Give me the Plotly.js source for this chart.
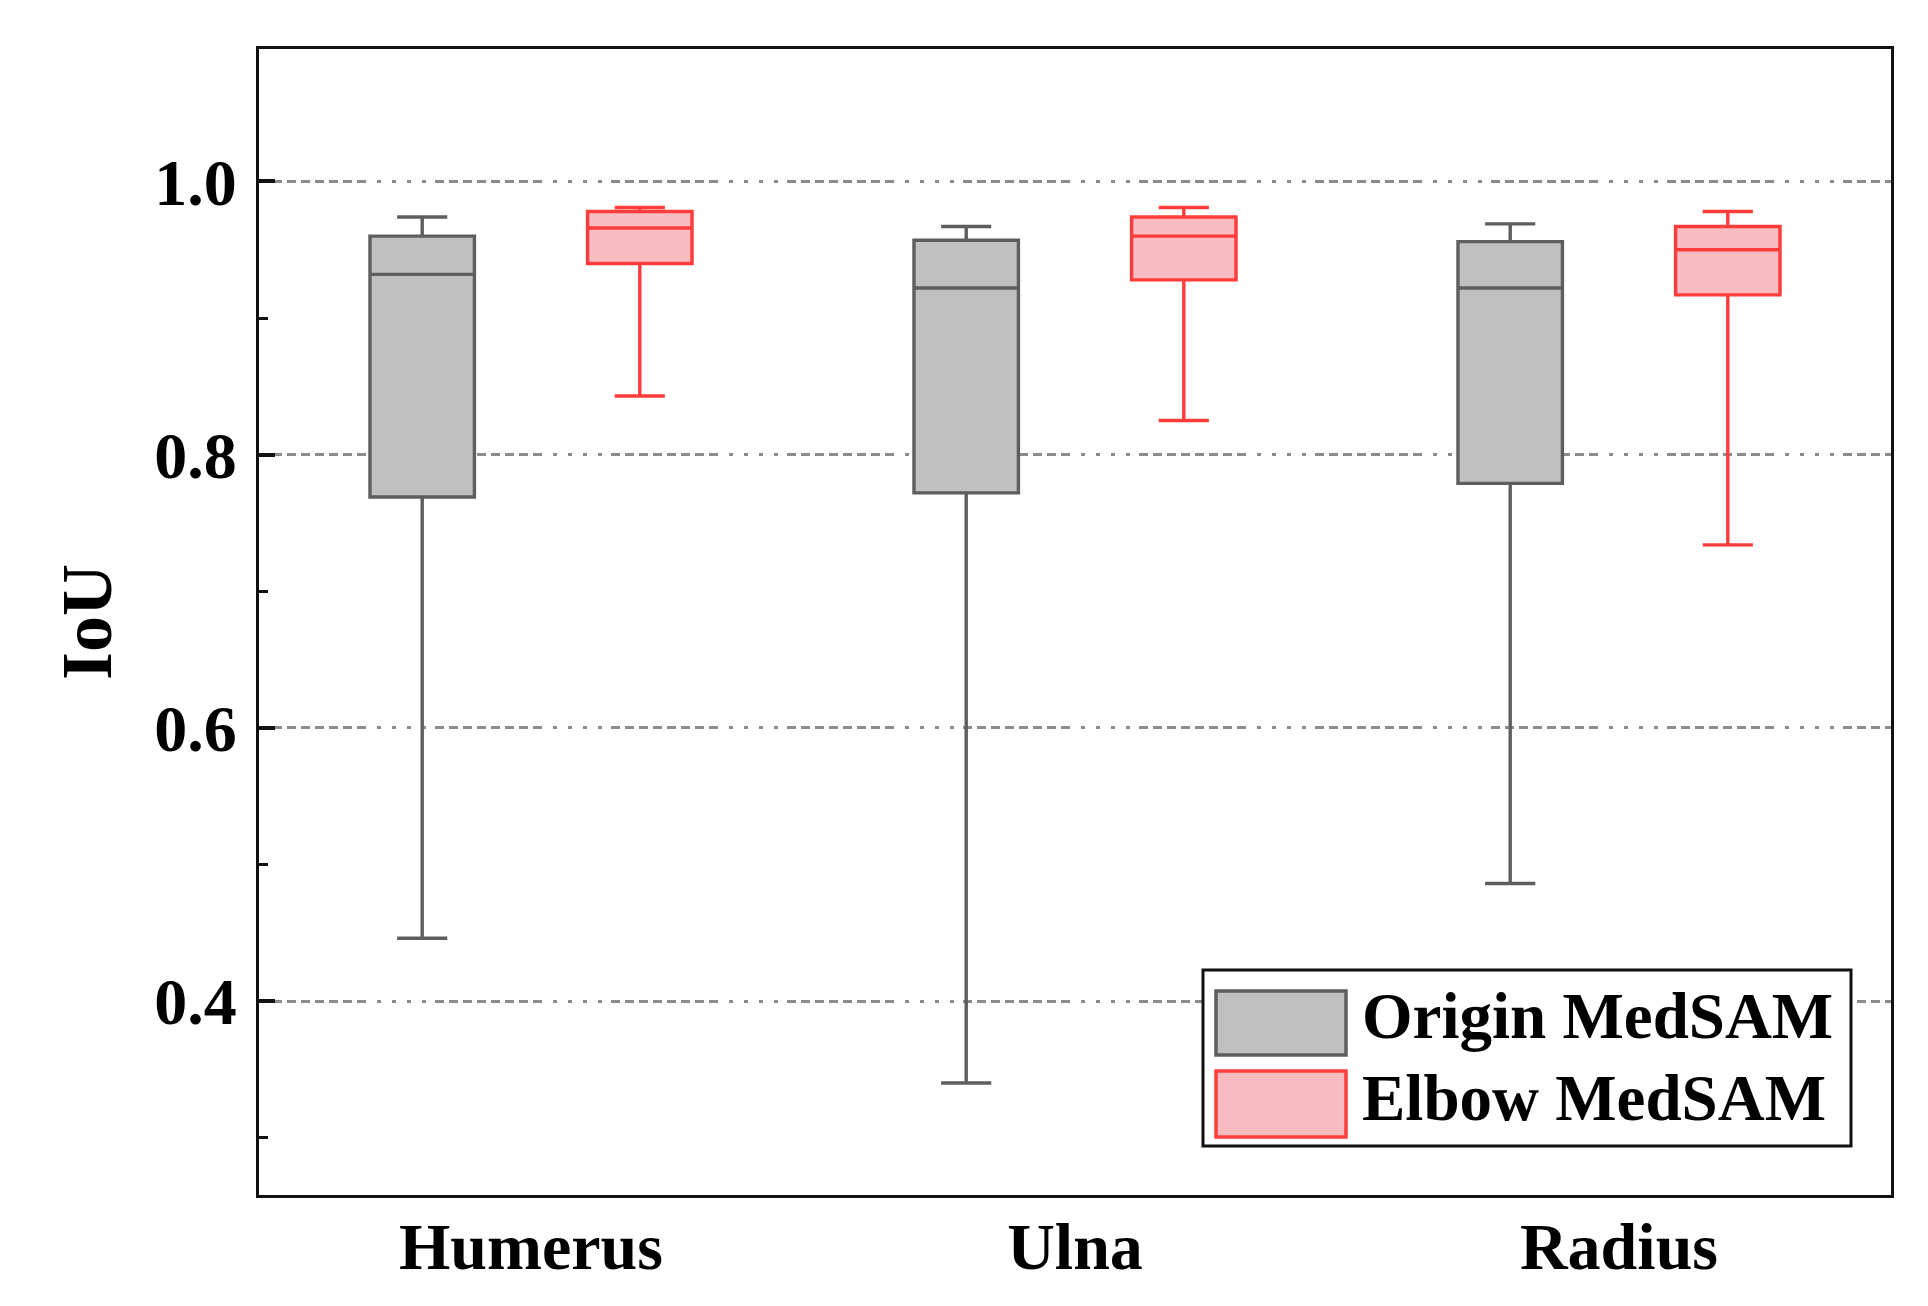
<!DOCTYPE html>
<html>
<head>
<meta charset="utf-8">
<script src="https://cdn.plot.ly/plotly-3.0.1.min.js"></script>
<style>html,body{margin:0;padding:0;background:#fff;}#chart{width:1928px;height:1306px;}</style>
</head>
<body>
<div id="chart"></div>
<script>
// ---- data ----
const categories = ["Humerus", "Ulna", "Radius"];
const seriesNames = ["Origin MedSAM", "Elbow MedSAM"];

const originLower  = [0.446, 0.340, 0.486];
const originQ1     = [0.769, 0.772, 0.779];
const originMedian = [0.932, 0.922, 0.922];
const originQ3     = [0.960, 0.957, 0.956];
const originUpper  = [0.974, 0.967, 0.969];

const elbowLower  = [0.843, 0.825, 0.734];
const elbowQ1     = [0.940, 0.928, 0.917];
const elbowMedian = [0.966, 0.960, 0.950];
const elbowQ3     = [0.978, 0.974, 0.967];
const elbowUpper  = [0.981, 0.981, 0.978];

const yTickVals = [0.4, 0.6, 0.8, 1.0];
const yTickText = ["0.4", "0.6", "0.8", "1.0"];

// ---- styling ----
const FONT = "Liberation Serif, Times New Roman, serif";
const grayFill = "#c0c0c0", grayLine = "#5e5e5e";
const pinkFill = "#f9bcc0", redLine = "#ff3c3c";

const W = 1928, H = 1306;
const M = {l: 259, r: 37, t: 49, b: 111};
const PW = W - M.l - M.r, PH = H - M.t - M.b;
const px = x => (x - M.l) / PW;
const py = y => (H - M.b - y) / PH;

const traces = [
  {type: "box", name: seriesNames[0], x: categories,
   q1: originQ1, median: originMedian, q3: originQ3,
   lowerfence: originLower, upperfence: originUpper,
   fillcolor: grayFill, line: {color: grayLine, width: 3.4},
   whiskerwidth: 0.48, boxpoints: false, showlegend: false, hoverinfo: "y"},
  {type: "box", name: seriesNames[1], x: categories,
   q1: elbowQ1, median: elbowMedian, q3: elbowQ3,
   lowerfence: elbowLower, upperfence: elbowUpper,
   fillcolor: pinkFill, line: {color: redLine, width: 3.4},
   whiskerwidth: 0.48, boxpoints: false, showlegend: false, hoverinfo: "y"}
];

const dashPattern = "9px,5px,9px,5px,9px,5px,9px,5px,9px,5px,9px,5px,9px,5px,9px,11px,4px,11px,4px,11px,4px,11px,4px,9px";

// custom legend (big swatches like the reference)
const legendShapes = [
  {type: "rect", xref: "paper", yref: "paper", x0: px(1203), x1: px(1851), y0: py(1146), y1: py(970),
   line: {color: "#111", width: 3}, fillcolor: "#fff", layer: "above"},
  {type: "rect", xref: "paper", yref: "paper", x0: px(1216), x1: px(1346), y0: py(1055), y1: py(991),
   line: {color: grayLine, width: 3.5}, fillcolor: grayFill, layer: "above"},
  {type: "rect", xref: "paper", yref: "paper", x0: px(1216), x1: px(1346), y0: py(1137), y1: py(1071),
   line: {color: redLine, width: 3.5}, fillcolor: pinkFill, layer: "above"}
];
const legendAnn = [
  {xref: "paper", yref: "paper", x: px(1360), y: py(1016), xanchor: "left", yanchor: "middle",
   text: seriesNames[0], showarrow: false, font: {family: FONT, size: 65, color: "#000", weight: "bold"}},
  {xref: "paper", yref: "paper", x: px(1360), y: py(1098), xanchor: "left", yanchor: "middle",
   text: seriesNames[1], showarrow: false, font: {family: FONT, size: 65, color: "#000", weight: "bold"}}
];

const layout = {
  width: W, height: H,
  margin: M,
  paper_bgcolor: "#fff", plot_bgcolor: "#fff",
  boxmode: "group", boxgap: 0.2, boxgroupgap: 0.52,
  showlegend: false,
  font: {family: FONT, color: "#000"},
  xaxis: {
    type: "category", range: [-0.5, 2.5],
    showline: true, linecolor: "#111", linewidth: 3, mirror: true,
    ticks: "", showgrid: false, zeroline: false,
    tickfont: {family: FONT, size: 66, weight: "bold", color: "#000"},
    ticklabelstandoff: -8
  },
  yaxis: {
    range: [0.258, 1.097],
    tickvals: yTickVals, ticktext: yTickText,
    showline: true, linecolor: "#111", linewidth: 3, mirror: true,
    ticks: "inside", ticklen: 16, tickwidth: 4, tickcolor: "#111",
    showgrid: true, gridcolor: "#8c8c8c", gridwidth: 3, griddash: dashPattern,
    zeroline: false,
    tickfont: {family: FONT, size: 66, weight: "bold", color: "#000"},
    ticklabelstandoff: 6,
    minor: {dtick: 0.1, tick0: 0, ticks: "inside", ticklen: 9, tickwidth: 3, tickcolor: "#111", showgrid: false},
    title: {text: "IoU", font: {family: FONT, size: 72, weight: "bold", color: "#000"}, standoff: 20}
  },
  shapes: legendShapes,
  annotations: legendAnn
};

Plotly.newPlot("chart", traces, layout, {staticPlot: true});
</script>
</body>
</html>
